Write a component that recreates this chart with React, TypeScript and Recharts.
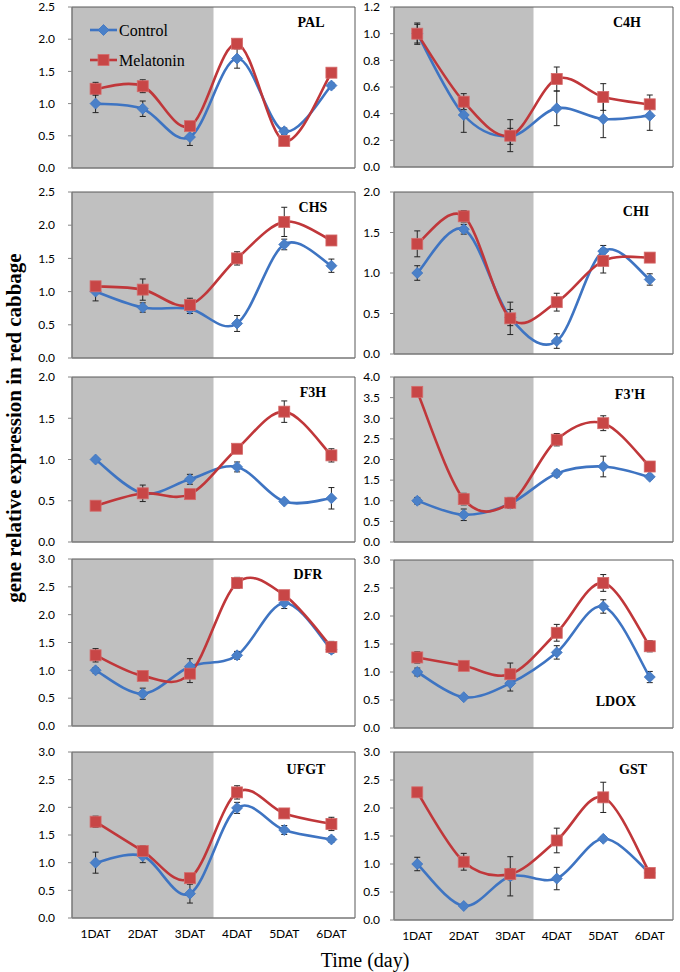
import React from 'react';
import { ErrorBar, Line, LineChart, ReferenceArea, XAxis, YAxis } from 'recharts';

const categories = ['1DAT', '2DAT', '3DAT', '4DAT', '5DAT', '6DAT'];

const palControl = [1.0, 0.92, 0.48, 1.7, 0.57, 1.28];
const palControlErr = [0.14, 0.12, 0.13, 0.15, 0.05, 0.04];
const palMelatonin = [1.23, 1.27, 0.65, 1.93, 0.42, 1.48];
const palMelatoninErr = [0.1, 0.1, 0.05, 0.07, 0.07, 0.04];
const palTicks = [0, 0.5, 1.0, 1.5, 2.0, 2.5];

const c4hControl = [1.0, 0.39, 0.23, 0.44, 0.36, 0.385];
const c4hControlErr = [0.07, 0.13, 0.06, 0.13, 0.14, 0.11];
const c4hMelatonin = [1.0, 0.49, 0.235, 0.66, 0.525, 0.47];
const c4hMelatoninErr = [0.08, 0.06, 0.12, 0.09, 0.1, 0.07];
const c4hTicks = [0, 0.2, 0.4, 0.6, 0.8, 1.0, 1.2];

const chsControl = [1.0, 0.76, 0.74, 0.52, 1.71, 1.39];
const chsControlErr = [0.14, 0.07, 0.07, 0.12, 0.08, 0.1];
const chsMelatonin = [1.08, 1.03, 0.8, 1.5, 2.05, 1.77];
const chsMelatoninErr = [0.06, 0.16, 0.1, 0.1, 0.22, 0.05];
const chsTicks = [0, 0.5, 1.0, 1.5, 2.0, 2.5];

const chiControl = [1.0, 1.54, 0.45, 0.16, 1.27, 0.92];
const chiControlErr = [0.09, 0.06, 0.1, 0.09, 0.07, 0.07];
const chiMelatonin = [1.36, 1.7, 0.44, 0.64, 1.15, 1.19];
const chiMelatoninErr = [0.16, 0.07, 0.2, 0.11, 0.15, 0.04];
const chiTicks = [0, 0.5, 1.0, 1.5, 2.0];

const f3hControl = [1.0, 0.59, 0.76, 0.91, 0.49, 0.53];
const f3hControlErr = [0.02, 0.05, 0.06, 0.06, 0.02, 0.13];
const f3hMelatonin = [0.44, 0.59, 0.58, 1.13, 1.58, 1.05];
const f3hMelatoninErr = [0.04, 0.1, 0.05, 0.02, 0.13, 0.08];
const f3hTicks = [0, 0.5, 1.0, 1.5, 2.0];

const f3phControl = [1.0, 0.66, 0.93, 1.66, 1.83, 1.58];
const f3phControlErr = [0.08, 0.14, 0.1, 0.08, 0.25, 0.05];
const f3phMelatonin = [3.64, 1.04, 0.95, 2.48, 2.88, 1.83];
const f3phMelatoninErr = [0.02, 0.14, 0.13, 0.15, 0.18, 0.03];
const f3phTicks = [0, 0.5, 1.0, 1.5, 2.0, 2.5, 3.0, 3.5, 4.0];

const dfrControl = [1.0, 0.58, 1.07, 1.27, 2.21, 1.37];
const dfrControlErr = [0.05, 0.1, 0.14, 0.07, 0.1, 0.06];
const dfrMelatonin = [1.27, 0.9, 0.94, 2.57, 2.35, 1.42];
const dfrMelatoninErr = [0.12, 0.02, 0.16, 0.1, 0.05, 0.1];
const dfrTicks = [0, 0.5, 1.0, 1.5, 2.0, 2.5, 3.0];

const ldoxControl = [1.0, 0.55, 0.8, 1.35, 2.17, 0.91];
const ldoxControlErr = [0.07, 0.02, 0.14, 0.12, 0.12, 0.1];
const ldoxMelatonin = [1.26, 1.11, 0.96, 1.7, 2.59, 1.46];
const ldoxMelatoninErr = [0.1, 0.05, 0.2, 0.15, 0.15, 0.1];
const ldoxTicks = [0, 0.5, 1.0, 1.5, 2.0, 2.5, 3.0];

const ufgtControl = [1.0, 1.12, 0.44, 1.99, 1.59, 1.42];
const ufgtControlErr = [0.19, 0.12, 0.17, 0.1, 0.08, 0.05];
const ufgtMelatonin = [1.74, 1.21, 0.72, 2.27, 1.89, 1.7];
const ufgtMelatoninErr = [0.1, 0.1, 0.08, 0.12, 0.04, 0.12];
const ufgtTicks = [0, 0.5, 1.0, 1.5, 2.0, 2.5, 3.0];

const gstControl = [1.0, 0.25, 0.78, 0.74, 1.45, 0.84];
const gstControlErr = [0.12, 0.03, 0.35, 0.2, 0.04, 0.05];
const gstMelatonin = [2.28, 1.04, 0.82, 1.42, 2.19, 0.84];
const gstMelatoninErr = [0.03, 0.15, 0.1, 0.22, 0.27, 0.04];
const gstTicks = [0, 0.5, 1.0, 1.5, 2.0, 2.5, 3.0];

const genes = [
  { name: 'PAL', control: palControl, controlErr: palControlErr, melatonin: palMelatonin, melatoninErr: palMelatoninErr, ticks: palTicks },
  { name: 'C4H', control: c4hControl, controlErr: c4hControlErr, melatonin: c4hMelatonin, melatoninErr: c4hMelatoninErr, ticks: c4hTicks },
  { name: 'CHS', control: chsControl, controlErr: chsControlErr, melatonin: chsMelatonin, melatoninErr: chsMelatoninErr, ticks: chsTicks },
  { name: 'CHI', control: chiControl, controlErr: chiControlErr, melatonin: chiMelatonin, melatoninErr: chiMelatoninErr, ticks: chiTicks },
  { name: 'F3H', control: f3hControl, controlErr: f3hControlErr, melatonin: f3hMelatonin, melatoninErr: f3hMelatoninErr, ticks: f3hTicks },
  { name: "F3'H", control: f3phControl, controlErr: f3phControlErr, melatonin: f3phMelatonin, melatoninErr: f3phMelatoninErr, ticks: f3phTicks },
  { name: 'DFR', control: dfrControl, controlErr: dfrControlErr, melatonin: dfrMelatonin, melatoninErr: dfrMelatoninErr, ticks: dfrTicks },
  { name: 'LDOX', control: ldoxControl, controlErr: ldoxControlErr, melatonin: ldoxMelatonin, melatoninErr: ldoxMelatoninErr, ticks: ldoxTicks },
  { name: 'UFGT', control: ufgtControl, controlErr: ufgtControlErr, melatonin: ufgtMelatonin, melatoninErr: ufgtMelatoninErr, ticks: ufgtTicks },
  { name: 'GST', control: gstControl, controlErr: gstControlErr, melatonin: gstMelatonin, melatoninErr: gstMelatoninErr, ticks: gstTicks },
];

// plot boxes (page px) and title centres, one per panel
const boxes = [
  { left: 72, right: 355, top: 7, bottom: 168, tx: 311, ty: 23 },
  { left: 394, right: 673, top: 7, bottom: 167, tx: 627, ty: 23 },
  { left: 72, right: 355, top: 192, bottom: 358, tx: 313, ty: 208 },
  { left: 394, right: 673, top: 192, bottom: 354, tx: 636, ty: 212 },
  { left: 72, right: 355, top: 377, bottom: 542, tx: 313, ty: 393 },
  { left: 394, right: 673, top: 377, bottom: 542, tx: 630, ty: 395 },
  { left: 72, right: 355, top: 559, bottom: 726, tx: 308, ty: 575 },
  { left: 394, right: 673, top: 560, bottom: 728, tx: 616, ty: 702 },
  { left: 72, right: 355, top: 752, bottom: 918, tx: 306, ty: 770 },
  { left: 394, right: 673, top: 752, bottom: 920, tx: 633, ty: 770 },
];

const BLUE_LINE = '#3e74c2';
const BLUE_FILL = '#4a80c8';
const RED_LINE = '#c0373a';
const RED_FILL = '#c84646';
const SERIF = "'Liberation Serif', 'Times New Roman', serif";
const SANS = "Lato, 'Open Sans', sans-serif";

// Excel-like smoothed line (Catmull-Rom through the points)
const excelCurve = (context: any) => {
  let pts: number[][] = [];
  return {
    areaStart() {},
    areaEnd() {},
    lineStart() {
      pts = [];
    },
    point(x: number, y: number) {
      pts.push([+x, +y]);
    },
    lineEnd() {
      if (!pts.length) return;
      context.moveTo(pts[0][0], pts[0][1]);
      for (let i = 0; i < pts.length - 1; i++) {
        const p0 = pts[i - 1] || pts[i];
        const p1 = pts[i];
        const p2 = pts[i + 1];
        const p3 = pts[i + 2] || p2;
        context.bezierCurveTo(
          p1[0] + (p2[0] - p0[0]) / 6,
          p1[1] + (p2[1] - p0[1]) / 6,
          p2[0] - (p3[0] - p1[0]) / 6,
          p2[1] - (p3[1] - p1[1]) / 6,
          p2[0],
          p2[1],
        );
      }
    },
  };
};

const Diamond = ({ cx, cy, r = 5.5 }: { cx: number; cy: number; r?: number }) => (
  <polygon points={`${cx},${cy - r} ${cx + r},${cy} ${cx},${cy + r} ${cx - r},${cy}`} fill={BLUE_FILL} stroke={BLUE_LINE} strokeWidth={0.8} />
);

const Square = ({ cx, cy, r = 5.5 }: { cx: number; cy: number; r?: number }) => (
  <rect x={cx - r} y={cy - r} width={r * 2} height={r * 2} fill={RED_FILL} stroke="#d46a6a" strokeWidth={0.8} />
);

const diamondDot = (p: any) => (p.cx == null ? null : <Diamond key={`c${p.index}`} cx={p.cx} cy={p.cy} />);
const squareDot = (p: any) => (p.cx == null ? null : <Square key={`m${p.index}`} cx={p.cx} cy={p.cy} />);

function Panel({ gene, box, showLabels, col }: { gene: any; box: any; showLabels: boolean; col: number }) {
  const rows = categories.map((day, i) => ({
    x: i + 0.5,
    day,
    control: gene.control[i],
    controlErr: gene.controlErr[i],
    melatonin: gene.melatonin[i],
    melatoninErr: gene.melatoninErr[i],
  }));
  const yMax = gene.ticks[gene.ticks.length - 1];
  const axisW = 72;
  const mTop = 8;
  const mRight = 6;
  const left = box.left - axisW;
  const width = box.right + mRight - left;
  const height = mTop + (box.bottom - box.top) + 6 + (showLabels ? 26 : 0) + 8;
  const edges = categories.map((_, i) => i).concat(categories.length);
  return (
    <div style={{ position: 'absolute', left, top: box.top - mTop }}>
      <LineChart width={width} height={height} data={rows} margin={{ top: mTop, right: mRight, bottom: 8, left: 0 }}>
        <ReferenceArea x1={0} x2={3} y1={0} y2={yMax} fill="#c0c0c0" fillOpacity={1} stroke="none" />
        <ReferenceArea x1={0} x2={6} y1={0} y2={yMax} fill="none" stroke="#595959" strokeWidth={1} />
        <XAxis dataKey="x" type="number" domain={[0, 6]} ticks={edges} interval={0} tick={false} tickSize={5} stroke="#868686" height={6} />
        {showLabels && (
          <XAxis
            xAxisId="lab"
            dataKey="x"
            type="number"
            domain={[0, 6]}
            ticks={rows.map((r) => r.x)}
            interval={0}
            tickFormatter={(v: number) => categories[Math.floor(v)]}
            axisLine={false}
            tickLine={false}
            tickSize={3}
            height={26}
            tick={{ fill: '#000', fontSize: 12, fontFamily: SANS }}
          />
        )}
        <YAxis
          type="number"
          domain={[0, yMax]}
          ticks={gene.ticks}
          interval={0}
          tickFormatter={(v: number) => v.toFixed(1)}
          width={axisW}
          tickSize={4}
          tickMargin={col === 0 ? 13 : 10}
          stroke="#868686"
          tick={{ fill: '#000', fontSize: 12, fontFamily: SANS }}
        />
        <Line
          dataKey="control"
          type={excelCurve as any}
          stroke={BLUE_LINE}
          strokeWidth={2.6}
          dot={diamondDot}
          activeDot={false}
          isAnimationActive={false}
        >
          <ErrorBar dataKey="controlErr" direction="y" width={3} stroke="#222" strokeWidth={1} />
        </Line>
        <Line
          dataKey="melatonin"
          type={excelCurve as any}
          stroke={RED_LINE}
          strokeWidth={2.6}
          dot={squareDot}
          activeDot={false}
          isAnimationActive={false}
        >
          <ErrorBar dataKey="melatoninErr" direction="y" width={3} stroke="#222" strokeWidth={1} />
        </Line>
      </LineChart>
      <div
        style={{
          position: 'absolute',
          left: box.tx - left,
          top: box.ty - (box.top - mTop),
          transform: 'translate(-50%, -50%)',
          fontFamily: SERIF,
          fontWeight: 'bold',
          fontSize: 14,
          whiteSpace: 'nowrap',
        }}
      >
        {gene.name}
      </div>
    </div>
  );
}

export default function App() {
  return (
    <div style={{ position: 'absolute', left: 0, top: 0, width: 680, height: 972, background: '#fff', overflow: 'hidden' }}>
      {genes.map((g, i) => (
        <Panel key={g.name} gene={g} box={boxes[i]} col={i % 2} showLabels={i >= genes.length - 2} />
      ))}
      <svg width={680} height={972} style={{ position: 'absolute', left: 0, top: 0, pointerEvents: 'none' }}>
        <line x1={90} y1={30} x2={117} y2={30} stroke={BLUE_LINE} strokeWidth={2.6} />
        <Diamond cx={103.5} cy={30} />
        <text x={119} y={30} dominantBaseline="central" style={{ fontFamily: SERIF, fontSize: 16 }}>
          Control
        </text>
        <line x1={90} y1={60} x2={117} y2={60} stroke={RED_LINE} strokeWidth={2.6} />
        <Square cx={103.5} cy={60} />
        <text x={119} y={60} dominantBaseline="central" style={{ fontFamily: SERIF, fontSize: 16 }}>
          Melatonin
        </text>
        <text
          transform="translate(14, 428) rotate(-90)"
          textAnchor="middle"
          dominantBaseline="central"
          style={{ fontFamily: SERIF, fontWeight: 'bold', fontSize: 21 }}
        >
          gene relative expression in red cabbage
        </text>
        <text x={365} y={960} textAnchor="middle" dominantBaseline="central" style={{ fontFamily: SERIF, fontSize: 20 }}>
          Time (day)
        </text>
      </svg>
    </div>
  );
}
